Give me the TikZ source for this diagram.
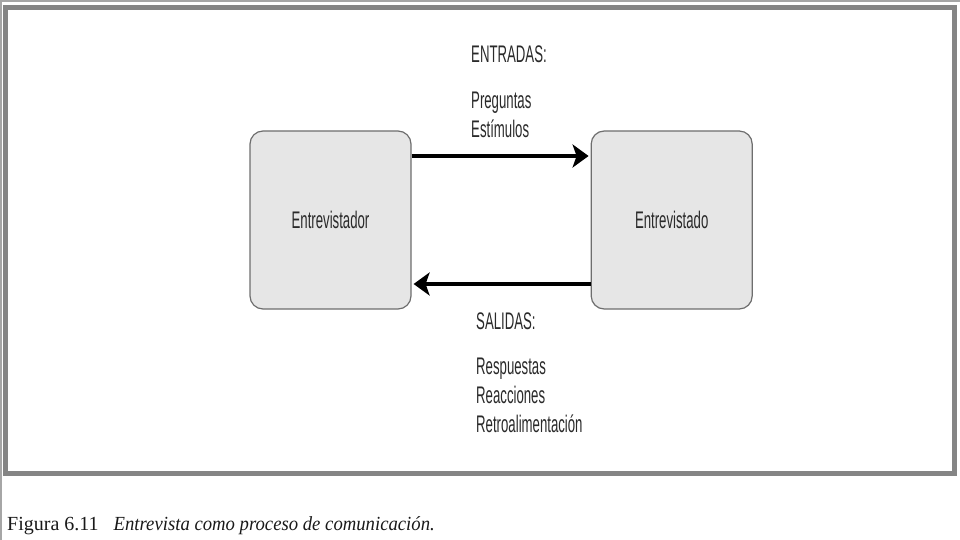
\documentclass[tikz,border=0pt]{standalone}
\usepackage{fontspec}
\usepackage{tikz}
\usetikzlibrary{arrows.meta,positioning}
\newfontfamily\narrowsans[FakeStretch=0.55]{Liberation Sans}
\newfontfamily\captionserif[ItalicFeatures={FakeStretch=0.935}]{Liberation Serif}
\definecolor{framegray}{HTML}{858585}
\definecolor{boxfill}{HTML}{E6E6E6}
\definecolor{boxline}{HTML}{6E6E6E}
\definecolor{textgray}{HTML}{2A2A2A}

\begin{document}
\begin{tikzpicture}[
    x=1pt, y=-1pt,
    node distance=179pt,
    block/.style={draw=boxline, line width=1.2pt, fill=boxfill, rounded corners=13pt,
        minimum width=161pt, minimum height=178pt, inner sep=0pt,
        font=\narrowsans\fontsize{24}{24}\selectfont, text=textgray},
    arrow/.style={-{Stealth[length=16pt, width=23pt, inset=4pt]}, line width=4pt, shorten >=2pt},
    label/.style={anchor=base west, inner sep=0pt, align=left, text=textgray,
        font=\narrowsans\fontsize{24}{29}\selectfont},
]
    \useasboundingbox (0,0) rectangle (960,540);
    \draw[gray!70, line width=1.5pt] (0,1) -- (960,1) (1,0) -- (1,540);
    \draw[framegray, line width=5pt] (5.5,7.5) rectangle (954.5,473.5);

    \node[block] (interviewer) at (330.5,220) {Entrevistador};
    \node[block, right=of interviewer] (interviewee) {Entrevistado};

    \draw[arrow] ([yshift=64pt]interviewer.east) -- ([yshift=64pt]interviewee.west);
    \draw[arrow] ([yshift=-64pt]interviewee.west) -- ([yshift=-64pt]interviewer.east);

    % base anchor of a multi-line label sits on its last line
    \node[label] (inputs) at (471,63) {ENTRADAS:};
    \node[label] (inputlist) at (471,138) {Preguntas\\Estímulos};
    \node[label] (outputs) at (476,329) {SALIDAS:};
    \node[label] (outputlist) at (476,432) {Respuestas\\Reacciones\\Retroalimentación};

    \node[anchor=base west, inner sep=0pt, text=black!90, font=\captionserif\fontsize{20}{20}\selectfont] (caption) at (7,530)
        {Figura 6.11\hspace{15pt}\textit{Entrevista como proceso de comunicación.}};
\end{tikzpicture}
\end{document}
